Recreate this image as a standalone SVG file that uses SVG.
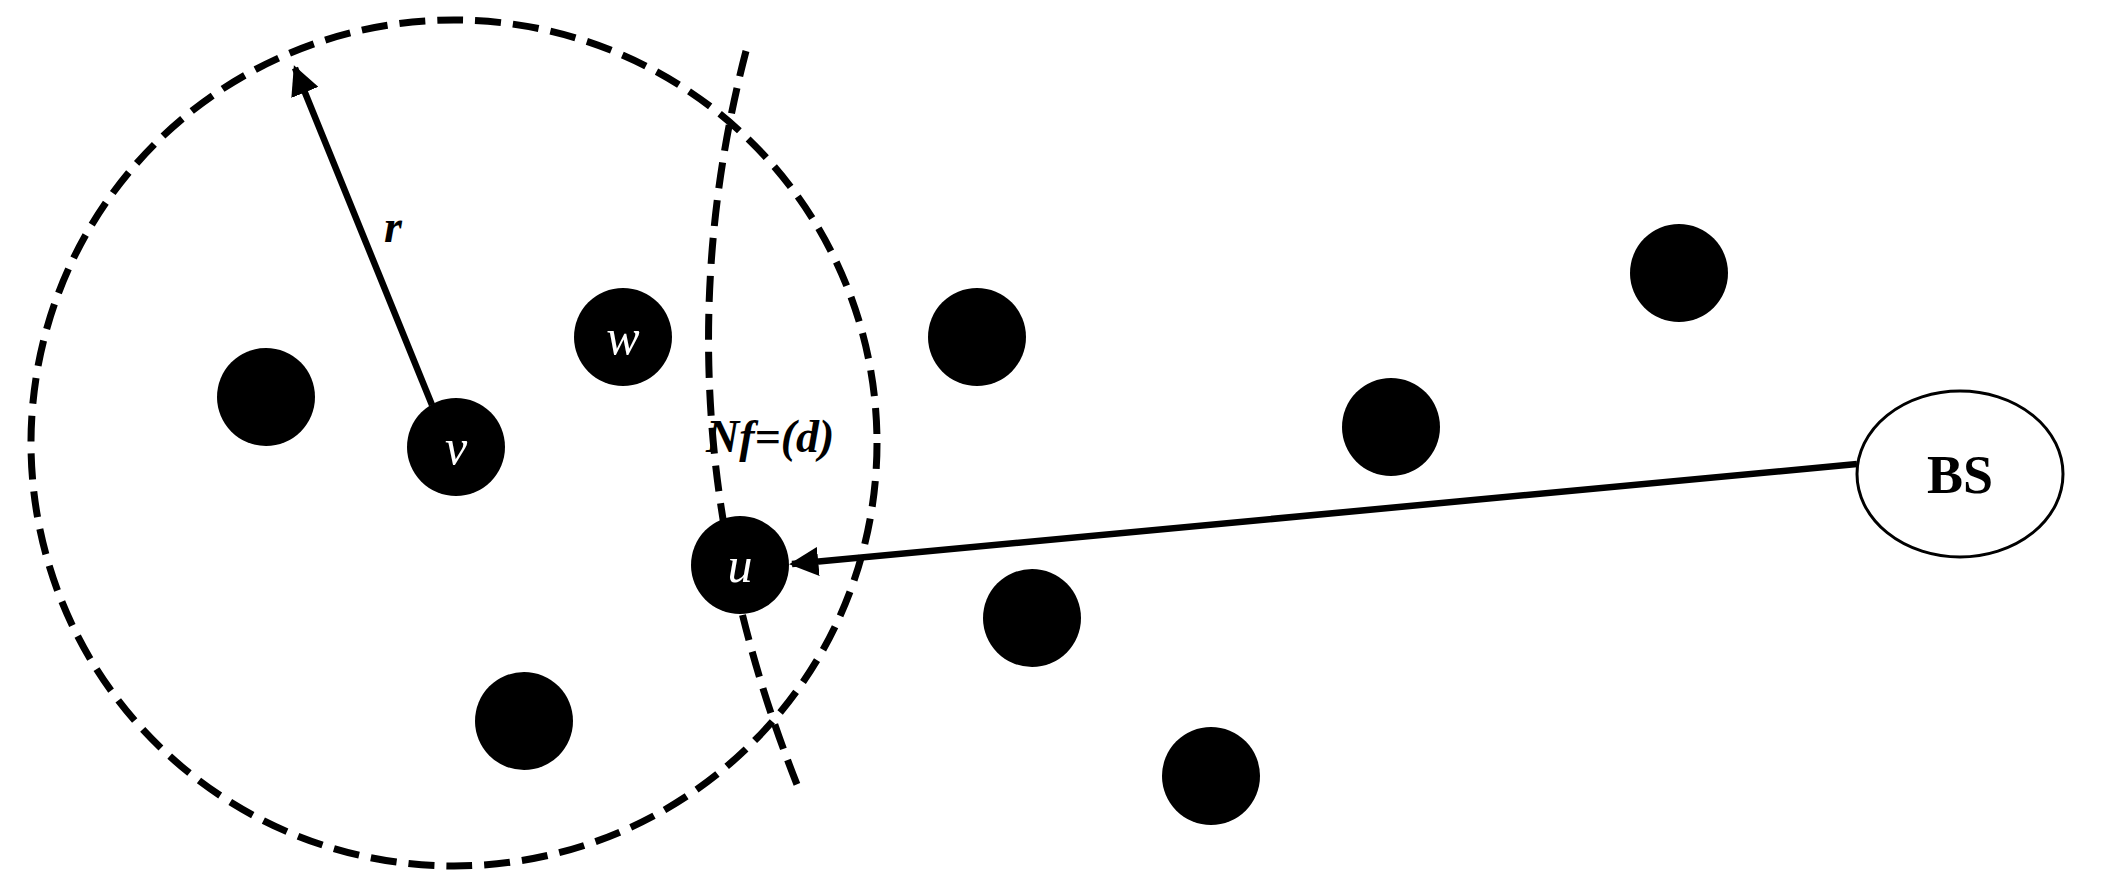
<svg xmlns="http://www.w3.org/2000/svg" width="2105" height="889" viewBox="0 0 2105 889">
<style>
.dot{fill:#000}
.dash{fill:none;stroke:#000;stroke-width:7;stroke-dasharray:26 12}
.lbl{font-family:"Liberation Serif",serif;font-style:italic;fill:#fff;font-size:50px;text-anchor:middle}
.blk{font-family:"Liberation Serif",serif;font-style:italic;font-weight:bold;fill:#000;font-size:46px}
.edge{stroke:#000;stroke-width:6.5;fill:none}
</style>
<defs><marker id="ah" viewBox="0 0 10 10" refX="9" refY="5" markerWidth="4.5" markerHeight="4.5" orient="auto"><path d="M0,0L10,5L0,10z" fill="#000"/></marker></defs>
<g id="range"><circle class="dash" cx="454" cy="443" r="423"/></g>
<g id="boundary"><path class="dash" d="M746,51 Q650,420 800,792"/></g>
<g id="connectors">
<line class="edge" x1="432" y1="405" x2="295" y2="68" marker-end="url(#ah)"/>
<line class="edge" x1="1857" y1="464" x2="792" y2="564" marker-end="url(#ah)"/>
</g>
<g id="n1"><circle class="dot" cx="266" cy="397" r="49"/></g>
<g id="v"><circle class="dot" cx="456" cy="447" r="49"/><text class="lbl" x="456" y="464">v</text></g>
<g id="w"><circle class="dot" cx="623" cy="337" r="49"/><text class="lbl" x="623" y="354">w</text></g>
<g id="u"><circle class="dot" cx="740" cy="565" r="49"/><text class="lbl" x="740" y="582">u</text></g>
<g id="n2"><circle class="dot" cx="524" cy="721" r="49"/></g>
<g id="n3"><circle class="dot" cx="977" cy="337" r="49"/></g>
<g id="n4"><circle class="dot" cx="1391" cy="427" r="49"/></g>
<g id="n5"><circle class="dot" cx="1679" cy="273" r="49"/></g>
<g id="n6"><circle class="dot" cx="1032" cy="618" r="49"/></g>
<g id="n7"><circle class="dot" cx="1211" cy="776" r="49"/></g>
<g id="BS"><ellipse cx="1960" cy="474" rx="103" ry="83" fill="#fff" stroke="#000" stroke-width="3"/><text x="1960" y="493" font-family="Liberation Serif,serif" font-weight="bold" font-size="54" text-anchor="middle">BS</text></g>
<text class="blk" x="384" y="242">r</text>
<text class="blk" x="706" y="452">Nf=(d)</text>
</svg>
